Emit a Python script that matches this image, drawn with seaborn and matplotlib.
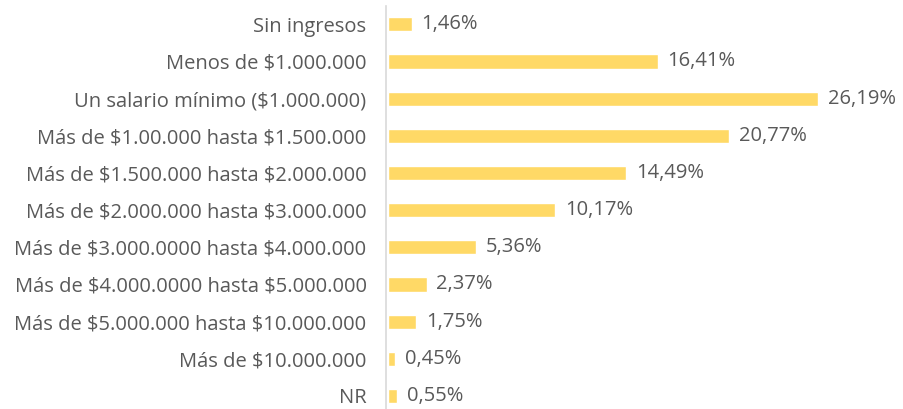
import matplotlib
matplotlib.use("Agg")
import matplotlib.pyplot as plt
import pandas as pd
import seaborn as sns

# ─── Data ─────────────────────────────────────────────────────────────────────
categories = [
    "Sin ingresos",
    "Menos de $1.000.000",
    "Un salario mínimo ($1.000.000)",
    "Más de $1.00.000 hasta $1.500.000",
    "Más de $1.500.000 hasta $2.000.000",
    "Más de $2.000.000 hasta $3.000.000",
    "Más de $3.000.0000 hasta $4.000.000",
    "Más de $4.000.0000 hasta $5.000.000",
    "Más de $5.000.000 hasta $10.000.000",
    "Más de $10.000.000",
    "NR",
]
values = [1.46, 16.41, 26.19, 20.77, 14.49, 10.17, 5.36, 2.37, 1.75, 0.45, 0.55]

BAR_COLOR = "#FFD966"
TEXT_COLOR = "#595959"

df = pd.DataFrame({"cat": categories, "pct": values})

sns.set_style("white")
plt.rcParams["font.family"] = ["Open Sans", "DejaVu Sans"]
plt.rcParams["text.parse_math"] = False

fig = plt.figure(figsize=(9.04, 4.09), dpi=100)
ax = fig.add_axes([0.427, 0.0, 0.573, 0.986])

sns.barplot(data=df, x="pct", y="cat", orient="h", color=BAR_COLOR,
            saturation=1, width=0.38, ax=ax)

for i, v in enumerate(values):
    ax.text(v + 0.6, i, f"{v:.2f}%".replace(".", ","), va="center", ha="left",
            fontsize=14.5, color=TEXT_COLOR)

ax.set_xlim(-0.1, 31.4)
ax.set_ylim(10.35, -0.5)
ax.set_xlabel("")
ax.set_ylabel("")
ax.set_xticks([])
ax.tick_params(axis="y", length=0, pad=14, labelsize=14.5, labelcolor=TEXT_COLOR)
for s in ["top", "right", "bottom"]:
    ax.spines[s].set_visible(False)
ax.spines["left"].set_color("#D9D9D9")
ax.spines["left"].set_linewidth(1.2)

fig.savefig("out.png", dpi=100)
